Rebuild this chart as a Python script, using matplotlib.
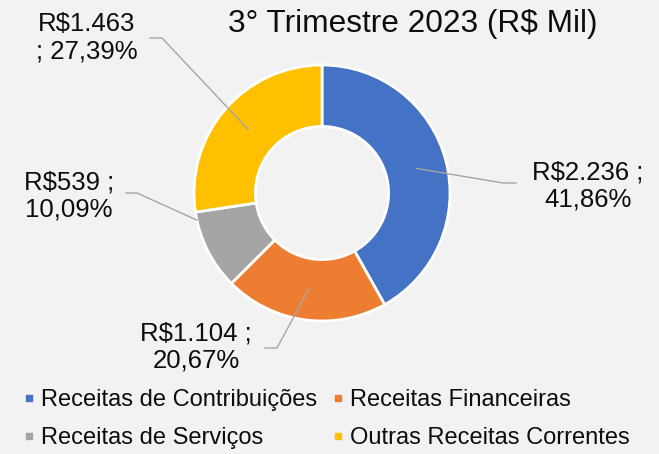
import matplotlib

matplotlib.use("Agg")

import matplotlib.pyplot as plt
from matplotlib.lines import Line2D
import numpy as np

plt.rcParams["font.family"] = ["Liberation Sans", "DejaVu Sans"]

W, H = 659, 454

title = "3° Trimestre 2023 (R$ Mil)"
categories = [
    "Receitas de Contribuições",
    "Receitas Financeiras",
    "Receitas de Serviços",
    "Outras Receitas Correntes",
]
values = [2236, 1104, 539, 1463]
value_labels = ["R$2.236", "R$1.104", "R$539", "R$1.463"]
percent_labels = ["41,86%", "20,67%", "10,09%", "27,39%"]
colors = ["#4472C4", "#ED7D31", "#A5A5A5", "#FFC000"]

# label layout in image pixels (y down)
label_breaks = [" ;\n", " ;\n", " ;\n", "\n; "]
label_pos = [(588, 186), (196, 347), (69, 196), (87, 38)]
elbows = [
    [(503, 183), (516, 183)],
    [(277, 348), (265, 348)],
    [(137, 193), (126, 193)],
    [(162, 38), (150, 38)],
]
# where the leader touches the wedge: (fraction along wedge angle, radius)
anchors = [(0.5, 0.76), (0.5, 0.76), (0.1, 1.0), (0.5, 0.76)]


def frac(x, y):
    return x / W, 1 - y / H


fig = plt.figure(figsize=(W / 100, H / 100), dpi=100)
fig.patch.set_facecolor("#f2f2f2")

cx, cy, R = 322, 193, 128
ax = fig.add_axes([(cx - R) / W, (H - cy - R) / H, 2 * R / W, 2 * R / H])
wedges, _ = ax.pie(
    values,
    colors=colors,
    startangle=90,
    counterclock=False,
    radius=1,
    wedgeprops=dict(width=0.48, edgecolor="white", linewidth=2),
)
ax.set_xlim(-1, 1)
ax.set_ylim(-1, 1)
ax.axis("off")

fig.text(*frac(413, 24), title, ha="center", va="center", fontsize=22.8, color="#0d0d0d")

inv = ax.transData.inverted()
for w, vl, pl, brk, pos, elb, (f, r) in zip(
    wedges, value_labels, percent_labels, label_breaks, label_pos, elbows, anchors
):
    ang = np.deg2rad(w.theta1 + f * (w.theta2 - w.theta1))
    pts = [(r * np.cos(ang), r * np.sin(ang))]
    for ex, ey in elb:
        pts.append(tuple(inv.transform((ex, H - ey))))
    pts = np.array(pts)
    ax.plot(pts[:, 0], pts[:, 1], color="#a6a6a6", lw=1, clip_on=False)
    fig.text(
        *frac(*pos),
        vl + brk + pl,
        ha="center",
        va="center",
        multialignment="center",
        fontsize=18.5,
        linespacing=1.2,
        color="#0d0d0d",
    )

handles = [Line2D([], [], marker="s", ls="", color=c, markersize=5) for c in colors]
order = [0, 2, 1, 3]
fig.legend(
    [handles[i] for i in order],
    [categories[i] for i in order],
    ncol=2,
    loc="center left",
    bbox_to_anchor=frac(25, 419),
    frameon=False,
    fontsize=17,
    handlelength=0.3,
    handletextpad=0.38,
    columnspacing=0.72,
    labelspacing=0.69,
    borderpad=0,
    borderaxespad=0,
)
for t in fig.legends[0].get_texts():
    t.set_color("#0d0d0d")

fig.savefig("out.png", dpi=100, facecolor=fig.get_facecolor())
